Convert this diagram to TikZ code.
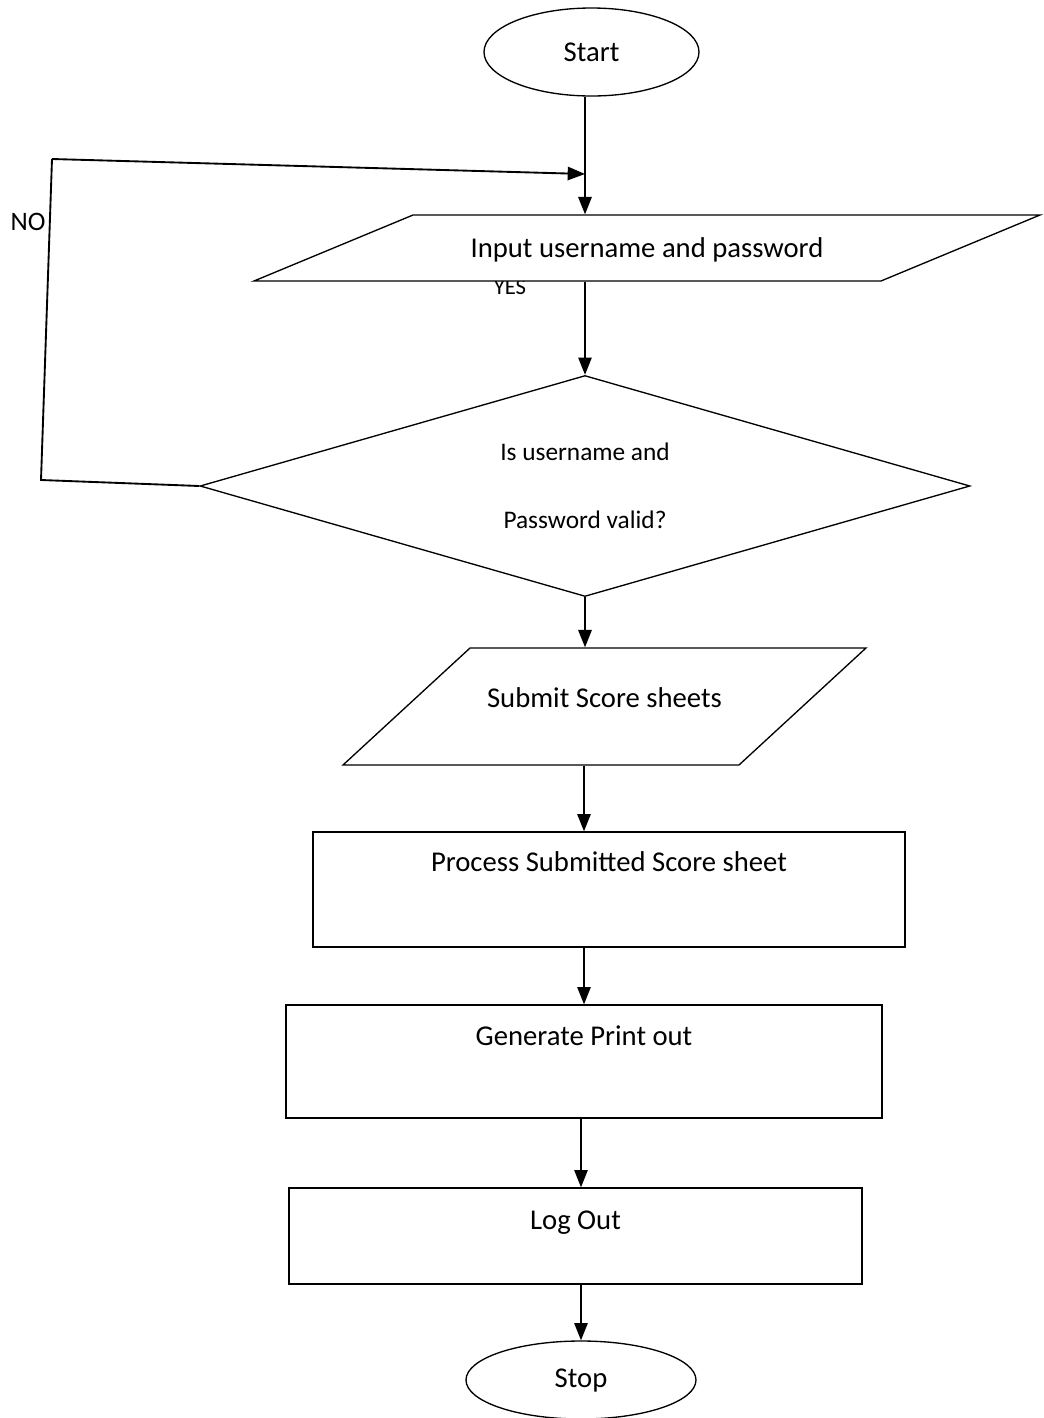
\documentclass[tikz,border=0pt]{standalone}
\usepackage{fontspec}
\setmainfont{Carlito}
\usetikzlibrary{positioning, arrows.meta, shapes.geometric}

\begin{document}
\begin{tikzpicture}[
    x=0.75pt, y=-0.75pt,
    >={Triangle[length=13pt, width=10pt]},
    every node/.style={font=\fontsize{21.5}{26}\selectfont},
    termbox/.style={draw, line width=1pt, ellipse, inner sep=0pt},
    iobox/.style={draw, line width=1pt, trapezium, trapezium stretches body, fill=white, inner sep=0pt},
    decbox/.style={draw, line width=1pt, diamond, aspect=3.48, inner sep=0pt, align=center, font=\fontsize{19}{51}\selectfont},
    procbox/.style={draw, line width=1pt, rectangle, inner sep=0pt, text height=15pt},
    annot/.style={font=\fontsize{20}{24}\selectfont},
    arr/.style={->, line width=1.4pt},
    loopline/.style={line width=1.4pt},
]
\useasboundingbox (0,0) rectangle (1043,1418);

% ---- Terminals ----
\node[termbox, minimum width=161.25pt, minimum height=66pt] (start) at (591.5,52) {Start};
\node[termbox, minimum width=172.5pt, minimum height=58.5pt] (stop) at (581,1380) {Stop};

% ---- Login input ----
\node[annot, font=\fontsize{17}{20}\selectfont] (yes) at (510,287) {YES};
\node[iobox, trapezium left angle=22.54, trapezium right angle=157.46,
      minimum width=589.5pt, text height=31.75pt, text depth=17.75pt] (input) at (647,248) {Input username and password};

% ---- Decision ----
\node[decbox, minimum width=577.5pt, minimum height=165.75pt] (diam) at (585,486) {Is username and\\Password valid?};
\node[annot] (no) at (28,222) {NO};

% ---- Score sheets ----
\node[iobox, trapezium left angle=42.65, trapezium right angle=137.35,
      minimum width=392.25pt, text height=44.5pt, text depth=43.25pt] (submit) at (604.5,706.5) {Submit Score sheets};
\node[procbox, minimum width=444pt, minimum height=86.25pt, text depth=42pt] (process) at (609,889.5) {Process Submitted Score sheet};
\node[procbox, minimum width=447pt, minimum height=84.75pt, text depth=39pt] (generate) at (584,1061.5) {Generate Print out};
\node[procbox, minimum width=429.75pt, minimum height=72pt, text depth=25pt] (logout) at (575.5,1236) {Log Out};

% ---- Main flow ----
\draw[arr] (start.south -| diam.north) -- (input.north -| diam.north);
\draw[arr] (input.south -| diam.north) -- (diam.north);
\draw[arr] (diam.south) -- (diam.south |- submit.north);
\draw[arr] (submit.south -| generate.north) -- (process.north -| generate.north);
\draw[arr] (process.south -| generate.north) -- (generate.north);
\draw[arr] (generate.south -| stop.north) -- (logout.north -| stop.north);
\draw[arr] (logout.south -| stop.north) -- (stop.north);

% ---- NO loop back ----
\coordinate (loopbot) at (41,480);
\coordinate (looptop) at (52,159);
\coordinate (loopin) at (585,174);
\draw[loopline] (diam.west) -- (loopbot) -- (looptop);
\draw[arr] (looptop) -- (loopin);

\end{tikzpicture}
\end{document}
